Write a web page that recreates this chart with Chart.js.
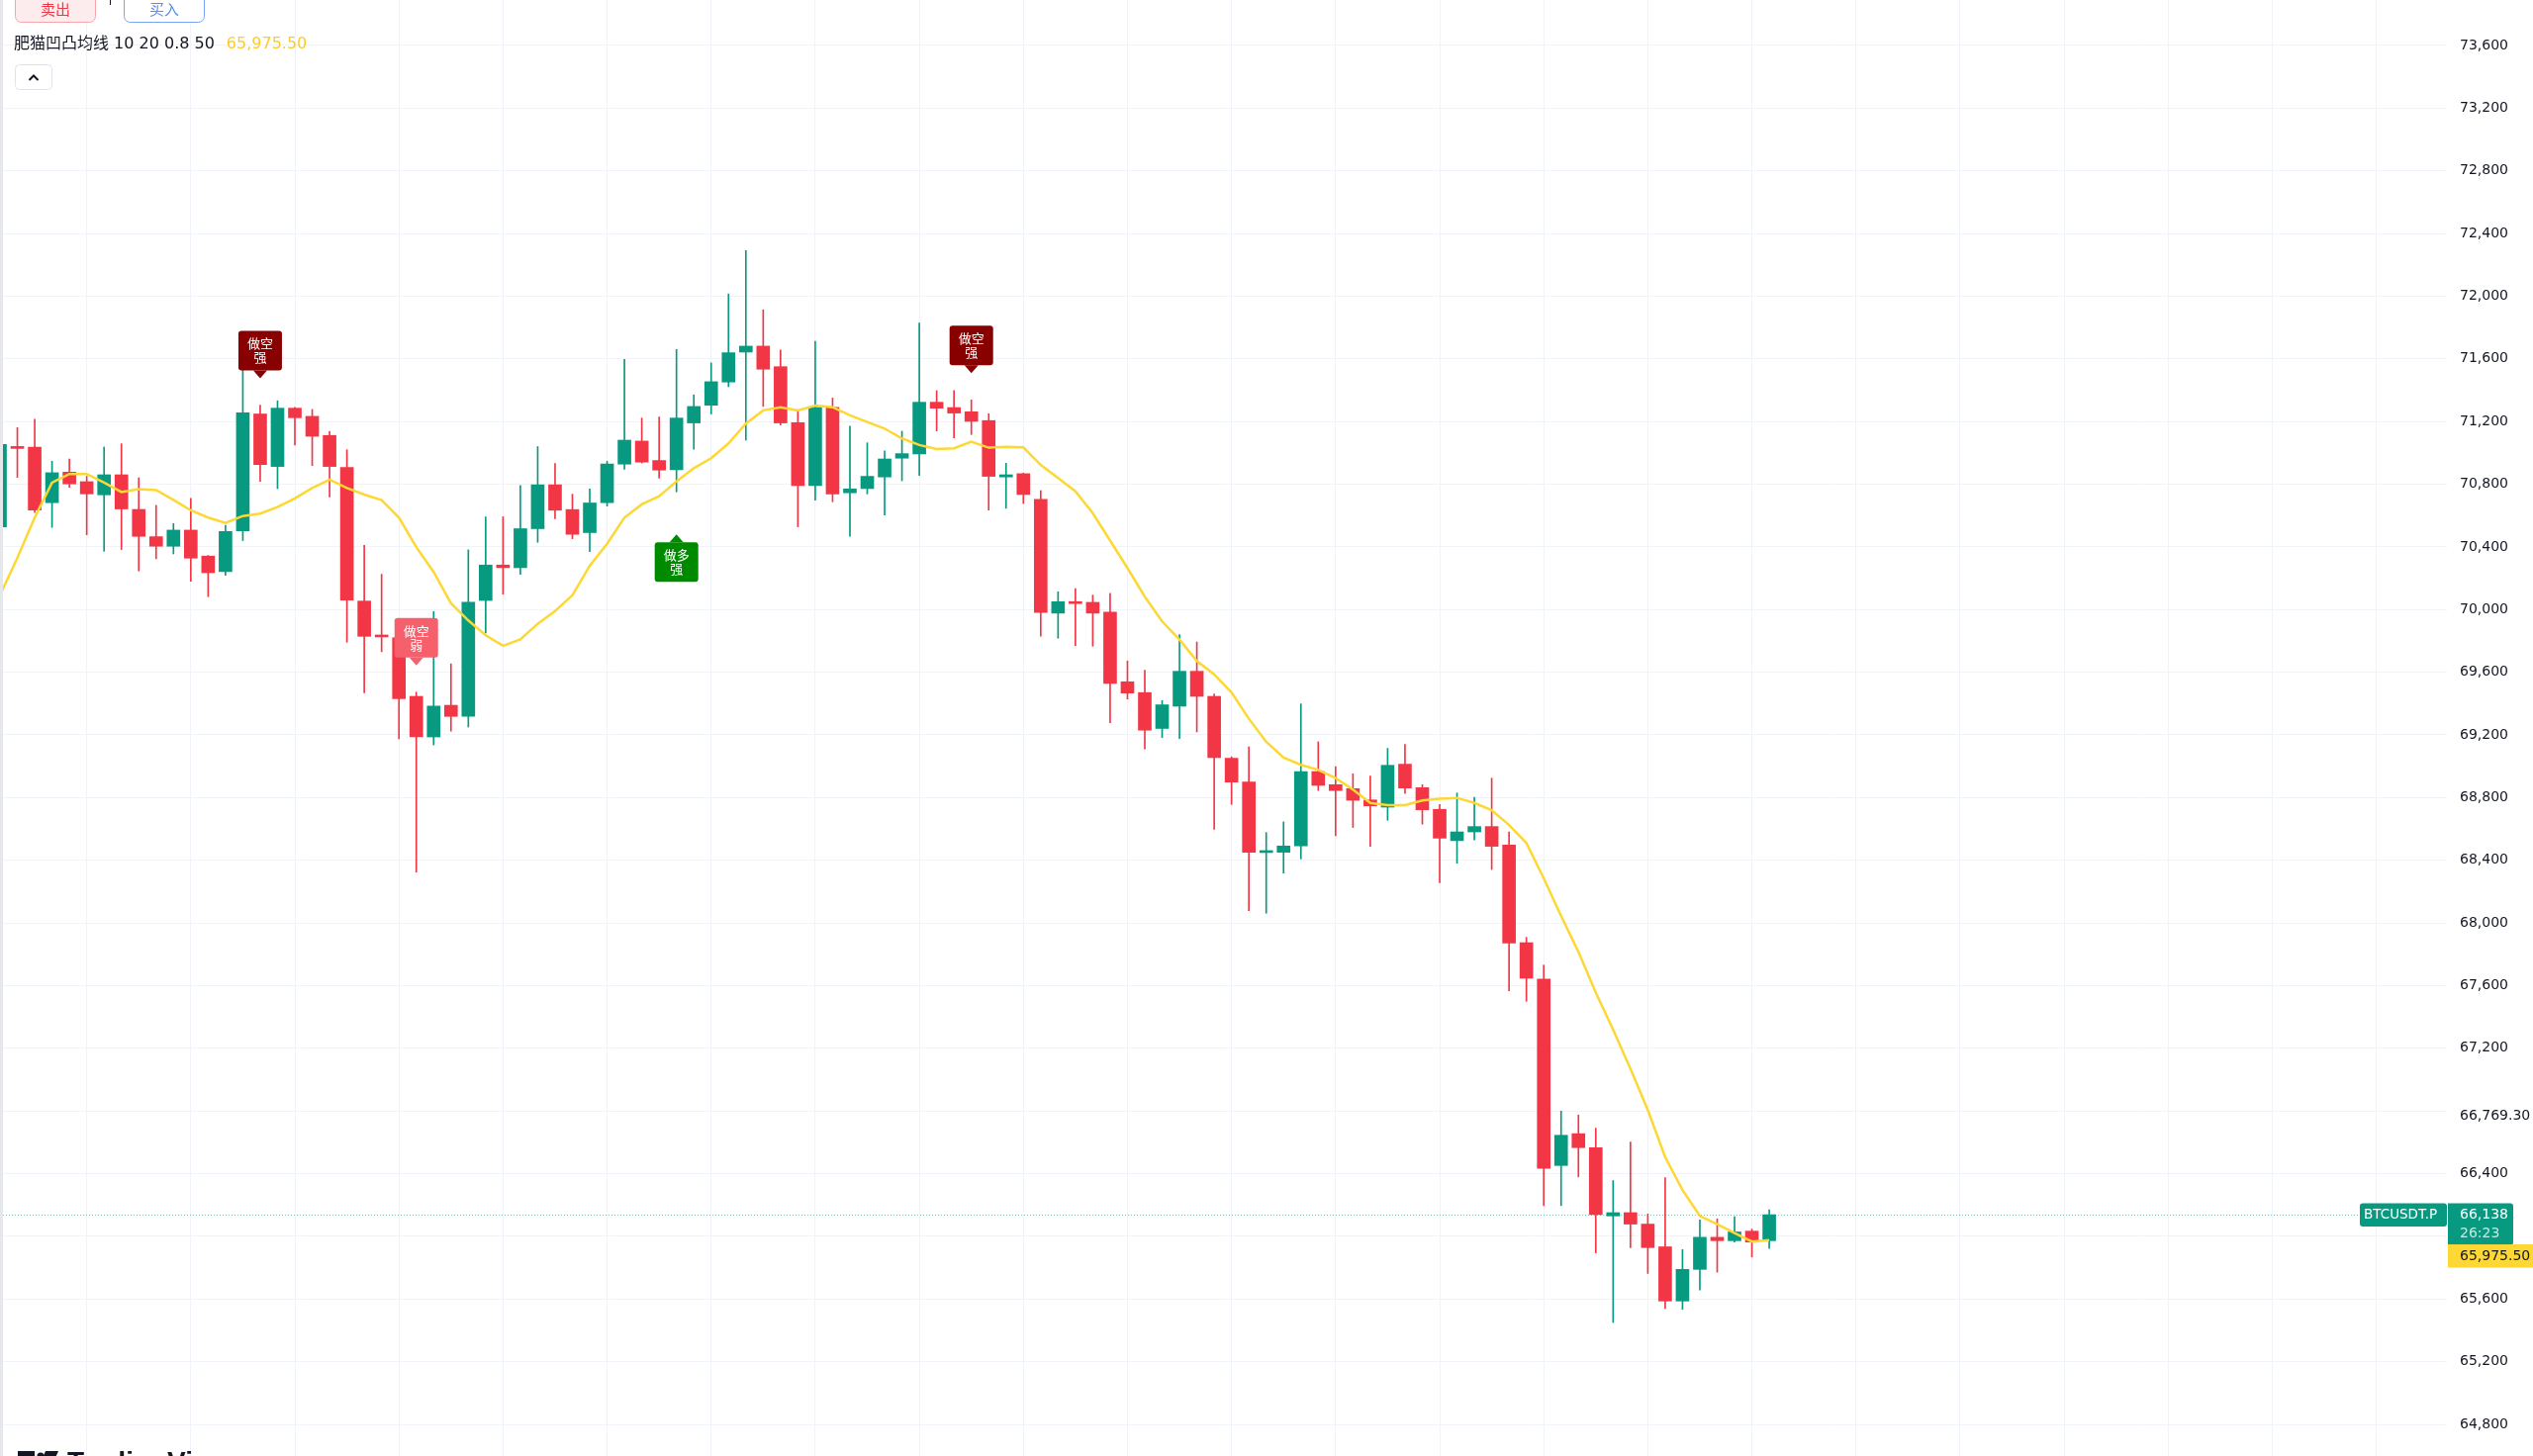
<!DOCTYPE html>
<html>
<head>
<meta charset="utf-8">
<title>BTCUSDT.P</title>
<script src="https://cdn.jsdelivr.net/npm/chart.js@4.4.1/dist/chart.umd.min.js"></script>
<style>
  html, body { margin: 0; padding: 0; background: #ffffff; overflow: hidden; }
  #wrap { position: relative; width: 2560px; height: 1472px; }
  canvas { display: block; }
</style>
</head>
<body>
<div id="wrap"><canvas id="chart" width="2560" height="1472"></canvas></div>
<script>
// candles, oldest first (one entry per bar)
const opens = [
  70528, 71040, 71037, 70682, 70877, 70816, 70732, 70860, 70639, 70465,
  70404, 70507, 70341, 70242, 70503, 71248, 70913, 71285, 71233, 71111,
  70907, 70054, 69831, 69820, 69446, 69187, 69389, 69318, 70058, 70284,
  70267, 70516, 70796, 70638, 70491, 70682, 70928, 71075, 70951, 70892,
  71191, 71304, 71452, 71643, 71681, 71550, 71193, 70791, 71291, 70745,
  70772, 70846, 70966, 70993, 71323, 71289, 71262, 71206, 70846, 70867,
  70703, 69977, 70050, 70046, 69983, 69539, 69470, 69241, 69383, 69606,
  69446, 69051, 68899, 68449, 68451, 68491, 68966, 68882, 68857, 68785,
  68739, 69013, 68863, 68725, 68525, 68581, 68615, 68497, 67874, 67642,
  66452, 66655, 66566, 66130, 66151, 66078, 65933, 65587, 65789, 65994,
  65972, 66033, 65972
];
const highs = [
  71070, 71161, 71214, 70947, 70961, 70850, 71037, 71058, 70841, 70665,
  70549, 70709, 70345, 70538, 71723, 71305, 71332, 71291, 71277, 71138,
  71020, 70409, 70225, 69830, 69473, 69987, 69653, 70381, 70592, 70592,
  70792, 71040, 70932, 70736, 70769, 70947, 71597, 71222, 71228, 71660,
  71370, 71574, 72014, 72291, 71913, 71656, 71275, 71712, 71350, 71170,
  71064, 71012, 71138, 71828, 71397, 71397, 71338, 71250, 70934, 70871,
  70759, 70113, 70134, 70092, 70103, 69672, 69612, 69419, 69840, 69793,
  69461, 69060, 69124, 68577, 68645, 69398, 69156, 68998, 68952, 68938,
  69114, 69139, 68882, 68756, 68829, 68802, 68924, 68581, 67908, 67731,
  66799, 66774, 66690, 66356, 66602, 66143, 66374, 65915, 66104, 66112,
  66125, 66046, 66169
];
const lows = [
  70510, 70843, 70619, 70524, 70780, 70477, 70372, 70383, 70246, 70324,
  70355, 70181, 70082, 70218, 70440, 70818, 70772, 71050, 70919, 70719,
  69791, 69469, 69731, 69175, 68324, 69136, 69224, 69250, 69851, 70098,
  70225, 70429, 70580, 70452, 70369, 70660, 70896, 70935, 70839, 70751,
  71023, 71248, 71422, 71081, 71296, 71178, 70528, 70698, 70688, 70467,
  70738, 70603, 70822, 70856, 71140, 71096, 71117, 70635, 70646, 70677,
  69830, 69817, 69770, 69766, 69278, 69429, 69110, 69183, 69177, 69219,
  68598, 68756, 68078, 68062, 68318, 68409, 68845, 68556, 68609, 68489,
  68655, 68826, 68630, 68256, 68381, 68529, 68341, 67567, 67500, 66196,
  66196, 66379, 65894, 65450, 65928, 65763, 65539, 65534, 65657, 65771,
  65963, 65868, 65922
];
const closes = [
  71054, 71028, 70635, 70873, 70802, 70738, 70860, 70642, 70467, 70404,
  70507, 70328, 70235, 70498, 71256, 70925, 71285, 71224, 71106, 70913,
  70061, 69829, 69825, 69431, 69188, 69384, 69318, 70047, 70284, 70267,
  70516, 70796, 70634, 70480, 70680, 70929, 71081, 70941, 70890, 71222,
  71296, 71454, 71639, 71681, 71534, 71191, 70791, 71291, 70738, 70770,
  70850, 70961, 70995, 71323, 71285, 71254, 71201, 70850, 70860, 70734,
  69981, 70050, 70038, 69977, 69528, 69467, 69230, 69392, 69606, 69446,
  69055, 68899, 68451, 68453, 68491, 68966, 68878, 68845, 68783, 68747,
  69006, 68861, 68722, 68541, 68581, 68615, 68489, 67872, 67647, 66434,
  66645, 66566, 66138, 66151, 66078, 65928, 65587, 65789, 65994, 65972,
  66028, 65963, 66138
];
// 肥猫凹凸均线 value on each bar
const maLine = [
  70092, 70330, 70587, 70810, 70865, 70865, 70810, 70750, 70768, 70762,
  70700, 70633, 70587, 70553, 70597, 70612, 70654, 70709, 70776, 70829,
  70776, 70734, 70698, 70587, 70398, 70240, 70040, 69930, 69836, 69769,
  69809, 69909, 69991, 70091, 70280, 70420, 70587, 70671, 70723, 70818,
  70902, 70966, 71060, 71187, 71271, 71291, 71271, 71302, 71291, 71239,
  71197, 71155, 71092, 71050, 71024, 71029, 71071, 71033, 71039, 71035,
  70923, 70839, 70755, 70615, 70440, 70265, 70082, 69924, 69808, 69671,
  69587, 69471, 69303, 69156, 69055, 69009, 68977, 68924, 68851, 68766,
  68752, 68752, 68782, 68792, 68798, 68766, 68720, 68625, 68510, 68285,
  68045, 67815, 67556, 67319, 67070, 66806, 66506, 66295, 66130, 66078,
  66021, 65967, 65975.5
];
// price scale labels
const priceTicks = [
  73600, 73200, 72800, 72400, 72000, 71600, 71200, 70800, 70400, 70000,
  69600, 69200, 68800, 68400, 68000, 67600, 67200, 66800, 66400, 66000,
  65600, 65200, 64800
];
const hiddenTicks = [66800];
const markedLevel = 66769.3;

// indicator signals
const signals = [
  { bar: 15, above: true, lines: ["做空", "强"], color: "#880000" },
  { bar: 24, above: true, lines: ["做空", "弱"], color: "#f5606c" },
  { bar: 39, above: false, lines: ["做多", "强"], color: "#008a00" },
  { bar: 56, above: true, lines: ["做空", "强"], color: "#880000" }
];

const symbol = "BTCUSDT.P";
const countdown = "26:23";
const legendName = "肥猫凹凸均线 10 20 0.8 50";
const lastPrice = closes[closes.length - 1];
const lastMa = maLine[maLine.length - 1];

const UP = "#089981";
const DOWN = "#f23645";
const MA_COLOR = "#fdd835";
const GRID = "#f0f3fa";
const TEXT = "#131722";
const AXIS_FONT = "'DejaVu Sans', sans-serif";

const fmt = (v, d = 0) =>
  v.toLocaleString("en-US", { minimumFractionDigits: d, maximumFractionDigits: d });

const colorAt = (i) => (closes[i] >= opens[i] ? UP : DOWN);
const wickData = opens.map((_, i) => ({ x: i, y: [lows[i], highs[i]] }));
const bodyData = opens.map((_, i) => ({ x: i, y: [opens[i], closes[i]] }));
const maData = maLine.map((v, i) => ({ x: i, y: v }));

// a time gridline every 6 bars
const timeGrid = Array.from({ length: 23 }, (_, k) => 5 + k * 6);

const roundRect = (ctx, x, y, w, h, r) => {
  ctx.beginPath();
  ctx.roundRect(x, y, w, h, r);
};

// no label padding, the plot fills the whole canvas
const noPadding = (s) => {
  s.paddingTop = 0;
  s.paddingBottom = 0;
  s.paddingLeft = 0;
  s.paddingRight = 0;
};

// everything TradingView draws around the series
const overlay = {
  id: "overlay",
  beforeDatasetsDraw(chart) {
    const { ctx, chartArea, scales } = chart;
    const py = Math.round(scales.y.getPixelForValue(lastPrice)) + 0.5;
    ctx.save();
    ctx.strokeStyle = "rgba(8,153,129,0.55)";
    ctx.lineWidth = 1;
    ctx.setLineDash([1, 2]);
    ctx.beginPath();
    ctx.moveTo(chartArea.left, py);
    ctx.lineTo(chartArea.right, py);
    ctx.stroke();
    ctx.restore();
  },
  afterDraw(chart) {
    const { ctx, chartArea, scales } = chart;
    const xs = scales.x;
    const ys = scales.y;
    ctx.save();

    // signal labels
    signals.forEach((s) => {
      const cx = xs.getPixelForValue(s.bar);
      const w = 44, h = 40, arrow = 8;
      let top, tipY, baseY;
      if (s.above) {
        tipY = ys.getPixelForValue(highs[s.bar]) - 27;
        baseY = tipY - arrow;
        top = baseY - h;
      } else {
        tipY = ys.getPixelForValue(lows[s.bar]) + 43;
        baseY = tipY + arrow;
        top = baseY;
      }
      ctx.fillStyle = s.color;
      roundRect(ctx, cx - w / 2, top, w, h, 3);
      ctx.fill();
      ctx.beginPath();
      ctx.moveTo(cx - 7, baseY);
      ctx.lineTo(cx + 7, baseY);
      ctx.lineTo(cx, tipY);
      ctx.closePath();
      ctx.fill();
      ctx.fillStyle = "#ffffff";
      ctx.font = "13px 'Noto Sans CJK SC', sans-serif";
      ctx.textAlign = "center";
      ctx.textBaseline = "middle";
      ctx.fillText(s.lines[0], cx, top + 13);
      ctx.fillText(s.lines[1], cx, top + 27);
    });

    // left edge strip
    ctx.fillStyle = "#e6e7ea";
    ctx.fillRect(0, 0, 3, chart.height);

    // order buttons
    ctx.lineWidth = 1;
    ctx.fillStyle = "#fdecee";
    roundRect(ctx, 15.5, -10.5, 81, 33, 6);
    ctx.fill();
    ctx.strokeStyle = "#f7a4ab";
    ctx.stroke();
    ctx.fillStyle = "#ffffff";
    roundRect(ctx, 125.5, -10.5, 81, 33, 6);
    ctx.fill();
    ctx.strokeStyle = "#7aa2f7";
    ctx.stroke();
    ctx.font = "15px 'Noto Sans CJK SC', sans-serif";
    ctx.textAlign = "center";
    ctx.textBaseline = "middle";
    ctx.fillStyle = "#f23645";
    ctx.fillText("卖出", 56, 9);
    ctx.fillStyle = "#5b8cf6";
    ctx.fillText("买入", 166, 9);
    ctx.fillStyle = TEXT;
    ctx.fillRect(111, 0, 1, 5);

    // indicator legend
    ctx.textAlign = "left";
    ctx.font = "16px 'DejaVu Sans', 'Noto Sans CJK SC', sans-serif";
    ctx.fillStyle = TEXT;
    ctx.fillText(legendName, 14, 45);
    const lw = ctx.measureText(legendName).width;
    ctx.fillStyle = "#f9cc2e";
    ctx.fillText(fmt(lastMa, 2), 14 + lw + 12, 45);

    // collapse button
    ctx.fillStyle = "#ffffff";
    roundRect(ctx, 15.5, 65.5, 37, 25, 4);
    ctx.fill();
    ctx.strokeStyle = "#e0e3eb";
    ctx.stroke();
    ctx.strokeStyle = TEXT;
    ctx.lineWidth = 2;
    ctx.beginPath();
    ctx.moveTo(29.5, 81);
    ctx.lineTo(34, 76.5);
    ctx.lineTo(38.5, 81);
    ctx.stroke();

    // price scale labels
    const ax = chartArea.right;
    const labelX = ax + 13;
    ctx.font = "14px " + AXIS_FONT;
    ctx.textAlign = "left";
    ctx.fillStyle = TEXT;
    ctx.fillText(fmt(markedLevel, 2), labelX, ys.getPixelForValue(markedLevel));

    const py = ys.getPixelForValue(lastPrice);
    const boxTop = py - 11.5;
    const boxBottom = boxTop + 42.5;
    ctx.fillStyle = UP;
    roundRect(ctx, ax - 88, boxTop, 88, 23.5, 3);
    ctx.fill();
    roundRect(ctx, ax + 1, boxTop, 66, 42.5, [0, 3, 3, 0]);
    ctx.fill();
    ctx.fillStyle = "#ffffff";
    ctx.font = "13.5px " + AXIS_FONT;
    ctx.fillText(symbol, ax - 84, py + 0.5);
    ctx.font = "14px " + AXIS_FONT;
    ctx.fillText(fmt(lastPrice), labelX, py + 0.5);
    ctx.fillStyle = "rgba(255,255,255,0.78)";
    ctx.fillText(countdown, labelX, py + 19);

    const maTop = Math.max(ys.getPixelForValue(lastMa) - 11.5, boxBottom - 1);
    ctx.fillStyle = MA_COLOR;
    ctx.fillRect(ax + 1, maTop, chart.width - ax - 1, 23.5);
    ctx.fillStyle = TEXT;
    ctx.fillText(fmt(lastMa, 2), labelX, maTop + 12);

    // watermark, cut by the bottom edge
    ctx.fillStyle = TEXT;
    ctx.fillRect(18, 1467, 17, 8);
    ctx.beginPath();
    ctx.arc(41, 1472, 3.5, 0, Math.PI * 2);
    ctx.fill();
    ctx.beginPath();
    ctx.moveTo(46, 1467);
    ctx.lineTo(59, 1467);
    ctx.lineTo(55, 1476);
    ctx.lineTo(42, 1476);
    ctx.closePath();
    ctx.fill();
    ctx.font = "bold 28px 'Liberation Sans', sans-serif";
    ctx.textBaseline = "alphabetic";
    ctx.fillText("TradingView", 68, 1487);

    ctx.restore();
  }
};

new Chart(document.getElementById("chart"), {
  type: "bar",
  data: {
    datasets: [
      {
        type: "line",
        data: maData,
        borderColor: MA_COLOR,
        borderWidth: 2.5,
        pointRadius: 0,
        tension: 0,
        order: 0
      },
      {
        data: bodyData,
        backgroundColor: (c) => colorAt(c.dataIndex),
        barThickness: 13,
        minBarLength: 2,
        grouped: false,
        borderWidth: 0,
        order: 1
      },
      {
        data: wickData,
        backgroundColor: (c) => colorAt(c.dataIndex),
        barThickness: 1,
        grouped: false,
        borderWidth: 0,
        order: 2
      }
    ]
  },
  options: {
    responsive: false,
    devicePixelRatio: 1,
    animation: false,
    layout: { padding: 0 },
    plugins: { legend: { display: false }, tooltip: { enabled: false } },
    scales: {
      x: {
        type: "linear",
        min: 0,
        max: 141.07,
        offset: false,
        grid: { color: GRID, drawTicks: false, offset: false },
        border: { display: false },
        ticks: { display: false },
        afterBuildTicks: (s) => { s.ticks = timeGrid.map((v) => ({ value: v })); },
        afterFit: (s) => { s.height = 0; noPadding(s); }
      },
      y: {
        type: "linear",
        position: "right",
        min: 64598,
        max: 73890,
        grid: { color: GRID, drawTicks: false },
        border: { display: false },
        afterBuildTicks: (s) => { s.ticks = priceTicks.map((v) => ({ value: v })); },
        afterFit: (s) => { s.width = 87; noPadding(s); },
        ticks: {
          color: TEXT,
          padding: 13,
          autoSkip: false,
          font: { family: AXIS_FONT, size: 14 },
          callback: (v) => (hiddenTicks.includes(v) ? "" : fmt(v))
        }
      }
    }
  },
  plugins: [overlay]
});
</script>
</body>
</html>
